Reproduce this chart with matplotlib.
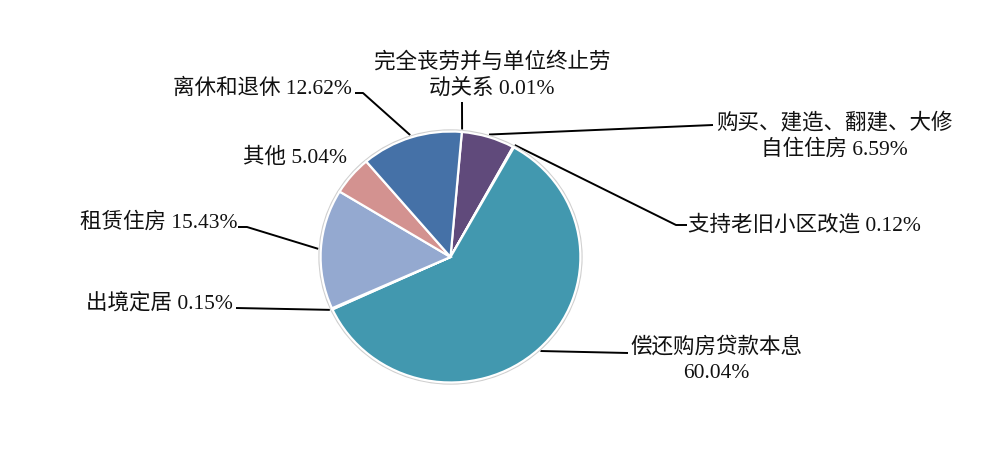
import matplotlib
matplotlib.use("Agg")
import matplotlib.pyplot as plt
import numpy as np

plt.rcParams['font.family'] = ['Liberation Serif', 'Noto Sans CJK SC']

# data (clockwise from the top)
names = ['完全丧劳并与单位终止劳动关系', '购买、建造、翻建、大修自住住房', '支持老旧小区改造',
         '偿还购房贷款本息', '出境定居', '租赁住房', '其他', '离休和退休']
shares = [0.01, 6.59, 0.12, 60.04, 0.15, 15.43, 5.04, 12.62]
colors = ['#B9CDE5', '#604A7B', '#4BACC6', '#4298AF', '#7F9CC8', '#94A9D0', '#D39290', '#4571A7']

# label text lines, anchor (px), alignment ; leader path (px), None = no line
labels = [
    (['完全丧劳并与单位终止劳', '动关系 0.01%'], (492, 62), 'center', [(462, 102)]),
    (['购买、建造、翻建、大修', '自住住房 6.59%'], (834, 123), 'center', [(713, 125)]),
    (['支持老旧小区改造 0.12%'], (688, 225), 'left', [(676, 225), (687, 225)]),
    (['偿还购房贷款本息', '60.04%'], (716, 347), 'center', [(628, 353)]),
    (['出境定居 0.15%'], (233, 303), 'right', [(236, 308)]),
    (['租赁住房 15.43%'], (237, 223), 'right', [(247, 227), (238, 227)]),
    (['其他 5.04%'], (347, 158), 'right', None),
    (['离休和退休 12.62%'], (352, 89), 'right', [(363, 93), (355, 93)]),
]

W, H = 999, 450
cx, cy, rx, ry = 450.5, 257, 132.5, 128

fig = plt.figure(figsize=(W / 100, H / 100), dpi=100)
bg = fig.add_axes([0, 0, 1, 1])
bg.set_xlim(0, W)
bg.set_ylim(H, 0)
bg.axis('off')

pa = fig.add_axes([(cx - rx) / W, (H - cy - ry) / H, 2 * rx / W, 2 * ry / H])
# faint shadow ring
pa.add_patch(plt.Circle((0, 0), 1.012, color='#D0D0D0', zorder=0))
wedges, _ = pa.pie(shares, startangle=85, counterclock=False, colors=colors, radius=1,
                   wedgeprops=dict(edgecolor='white', linewidth=1.6))
pa.set_aspect('auto')
pa.set_xlim(-1.02, 1.02)
pa.set_ylim(-1.02, 1.02)
pa.axis('off')

for w, (lines, (tx, ty), ha, path) in zip(wedges, labels):
    mid = np.deg2rad((w.theta1 + w.theta2) / 2)
    ex = cx + rx * np.cos(mid)
    ey = cy - ry * np.sin(mid)
    if path is not None:
        xs = [ex] + [p[0] for p in path]
        ys = [ey] + [p[1] for p in path]
        bg.plot(xs, ys, color='black', lw=1.4, solid_capstyle='butt')
    for i, t in enumerate(lines):
        bg.text(tx, ty + i * 27 if len(lines) > 1 else ty, t, ha=ha, va='center',
                fontsize=15.5, color='#111111')

fig.savefig('out.png', dpi=100)
